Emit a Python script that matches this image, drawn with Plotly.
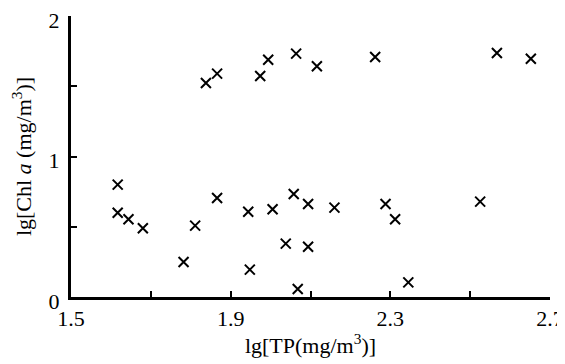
import plotly.graph_objects as go

# Data
tp = [1.838, 1.866, 1.974, 1.994, 2.064, 2.116, 2.262, 2.567, 2.652,
      1.617, 1.617, 1.644, 1.680, 1.782, 1.811, 1.866, 1.944, 1.948,
      2.005, 2.038, 2.058, 2.068, 2.094, 2.094, 2.160, 2.288, 2.312,
      2.345, 2.525]
chl = [1.523, 1.590, 1.573, 1.689, 1.732, 1.642, 1.708, 1.737, 1.696,
       0.800, 0.600, 0.553, 0.489, 0.249, 0.508, 0.705, 0.607, 0.195,
       0.624, 0.380, 0.733, 0.057, 0.662, 0.358, 0.636, 0.662, 0.553,
       0.104, 0.679]

x_tickvals = [1.5, 1.7, 1.9, 2.1, 2.3, 2.5, 2.7]
x_ticktext = ["1.5", "", "1.9", "", "2.3", "", "2.7"]
y_tickvals = [0, 0.5, 1, 1.5, 2]
y_ticktext = ["0", "", "1", "", "2"]

FONT = "Liberation Serif, Times New Roman, serif"

fig = go.Figure(go.Scatter(
    x=tp, y=chl, mode="markers",
    marker=dict(symbol="x-thin", size=10, color="black",
                line=dict(width=2, color="black")),
    showlegend=False,
))

# the page body adds an 8px offset; margins compensate for it
fig.update_layout(
    template="simple_white",
    width=565, height=364,
    margin=dict(l=63, r=23, t=8, b=75),
    paper_bgcolor="white", plot_bgcolor="white",
    font=dict(family=FONT, size=22, color="black"),
)

fig.update_xaxes(
    range=[1.5, 2.7], tickvals=x_tickvals, ticktext=x_ticktext,
    showgrid=False, zeroline=False, automargin=False,
    showline=True, linecolor="black", linewidth=3,
    ticks="inside", ticklen=6, tickwidth=1.5, tickcolor="black",
    ticklabeloverflow="allow",
    tickfont=dict(family=FONT, size=22),
    title=dict(text="lg[TP(mg/m<sup>3</sup>)]", standoff=8,
               font=dict(family=FONT, size=22)),
)
fig.update_yaxes(
    range=[0, 2], tickvals=y_tickvals, ticktext=y_ticktext,
    showgrid=False, zeroline=False, automargin=False,
    showline=True, linecolor="black", linewidth=3,
    ticks="inside", ticklen=6, tickwidth=1.5, tickcolor="black",
    ticklabelstandoff=4, ticklabelshift=4, ticklabeloverflow="allow",
    tickfont=dict(family=FONT, size=22),
    title=dict(text="lg[Chl <i>a</i> (mg/m<sup>3</sup>)]", standoff=16,
               font=dict(family=FONT, size=22)),
)

fig.write_html("out.html")
